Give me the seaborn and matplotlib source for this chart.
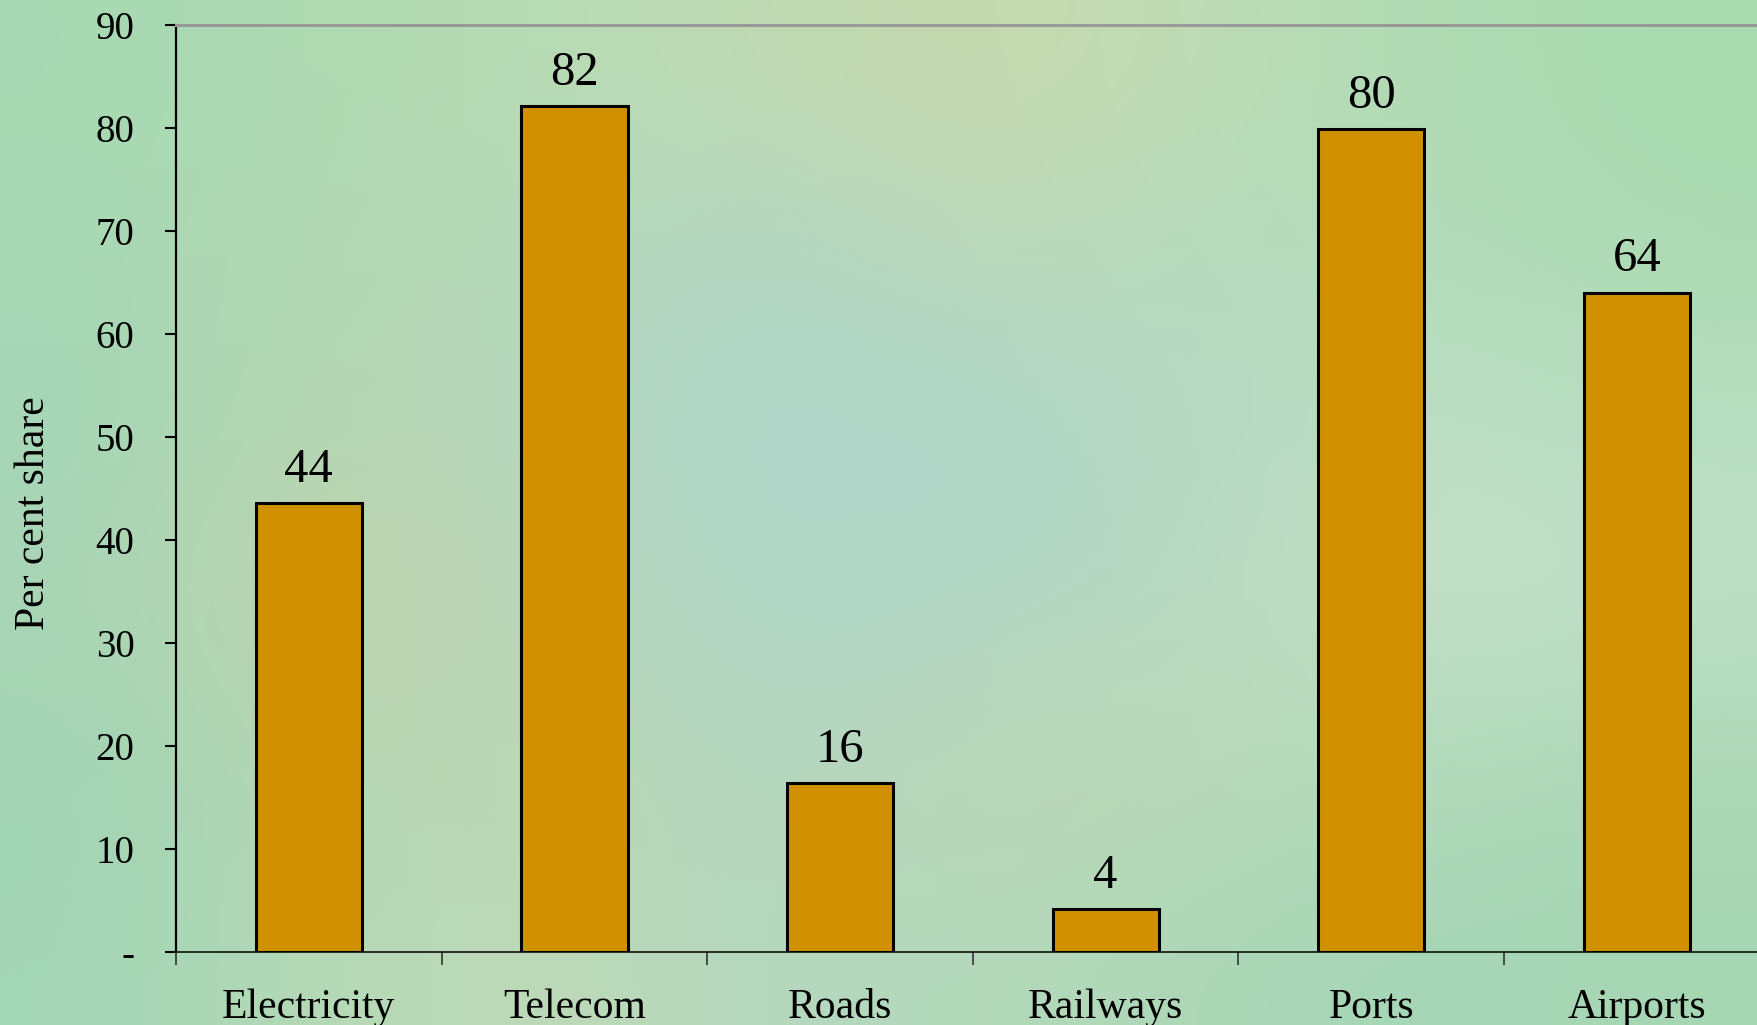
import numpy as np
import pandas as pd
import matplotlib
matplotlib.use("Agg")
import matplotlib.pyplot as plt
from matplotlib.colors import to_rgb
import seaborn as sns

# Share of private investment by infrastructure sector (per cent)
sectors = ["Electricity", "Telecom", "Roads", "Railways", "Ports", "Airports"]
shares = [43.6, 82.1, 16.4, 4.2, 79.9, 64.0]
y_ticks = [0, 10, 20, 30, 40, 50, 60, 70, 80, 90]
y_tick_labels = ["-", "10", "20", "30", "40", "50", "60", "70", "80", "90"]

# Soft mottled backdrop colours (rows top to bottom)
backdrop = [
    ["#a6dab3", "#b0dab1", "#b8dcb6", "#bfdab3", "#c8d8ac", "#bedcb6", "#afdcb4", "#aadcb0"],
    ["#a9d8b6", "#b3d8b2", "#b7d8bb", "#b2d6c6", "#bcd8ba", "#b4dabe", "#b3dcbb", "#acdab3"],
    ["#a3d6b7", "#b9d6b0", "#b6d8c0", "#acd6cc", "#b0d8cc", "#b6d8c2", "#bfdec6", "#b7dec2"],
    ["#abd6b7", "#c6d3ac", "#b8d7bb", "#b0d6c8", "#b2d7c8", "#b8d8be", "#c6e1ca", "#bfdfc6"],
    ["#a0d4b3", "#b8d7b4", "#bcd7b4", "#b3d7c3", "#c0d6b4", "#bbdaba", "#b3dabb", "#abd8b7"],
    ["#a3d6b6", "#b7dab7", "#bfdab7", "#b4d8bf", "#b4dabb", "#acd7b7", "#a4d6b7", "#a7d6b3"],
]

sns.set_style("white")
plt.rcParams["font.family"] = ["Liberation Serif", "DejaVu Serif"]
plt.rcParams["text.color"] = "black"
plt.rcParams["axes.labelcolor"] = "black"
plt.rcParams["xtick.color"] = "black"
plt.rcParams["ytick.color"] = "black"

df = pd.DataFrame({"sector": sectors, "share": shares})

fig = plt.figure(figsize=(17.57, 10.25), dpi=100)

bg = fig.add_axes([0, 0, 1, 1], zorder=0)
bg_rgb = np.array([[to_rgb(c) for c in row] for row in backdrop])
bg.imshow(bg_rgb, aspect="auto", interpolation="bicubic", extent=[0, 1, 0, 1])
bg.set_axis_off()

ax = fig.add_axes([0.1002, 0.0712, 0.907, 0.9048], zorder=1)
ax.patch.set_alpha(0)

sns.barplot(data=df, x="sector", y="share", color="#D09000", saturation=1,
            edgecolor="black", linewidth=2.2, width=0.4, ax=ax)

ax.bar_label(ax.containers[0], labels=[f"{v:.0f}" for v in shares],
             padding=8, fontsize=35, color="black")

ax.set_xlim(-0.5, len(sectors) - 0.5)
ax.set_ylim(0, 90)
ax.set_yticks(y_ticks)
ax.set_yticklabels(y_tick_labels, fontsize=28)
ax.tick_params(axis="y", direction="out", length=8, width=1.5, colors="black", pad=22, left=True)

ax.set_xticks(np.arange(-0.5, len(sectors), 1))
ax.set_xticklabels([])
ax.set_xticks(np.arange(len(sectors)), minor=True)
ax.set_xticklabels(sectors, minor=True, fontsize=30)
ax.tick_params(axis="x", which="major", direction="out", length=9, width=1.2, color="#333333", bottom=True)
ax.tick_params(axis="x", which="minor", length=0, pad=26, labelcolor="black")

ax.set_xlabel("")
ax.set_ylabel("Per cent share", fontsize=30, color="black")
ax.yaxis.set_label_coords(-0.077, 0.473)

for side in ["left", "bottom"]:
    ax.spines[side].set_visible(True)
    ax.spines[side].set_color("black")
ax.spines["left"].set_linewidth(1.6)
ax.spines["bottom"].set_linewidth(1.1)
ax.spines["top"].set_color("#999999")
ax.spines["top"].set_linewidth(2.2)
ax.spines["right"].set_visible(False)

fig.savefig("out.png", dpi=100)
